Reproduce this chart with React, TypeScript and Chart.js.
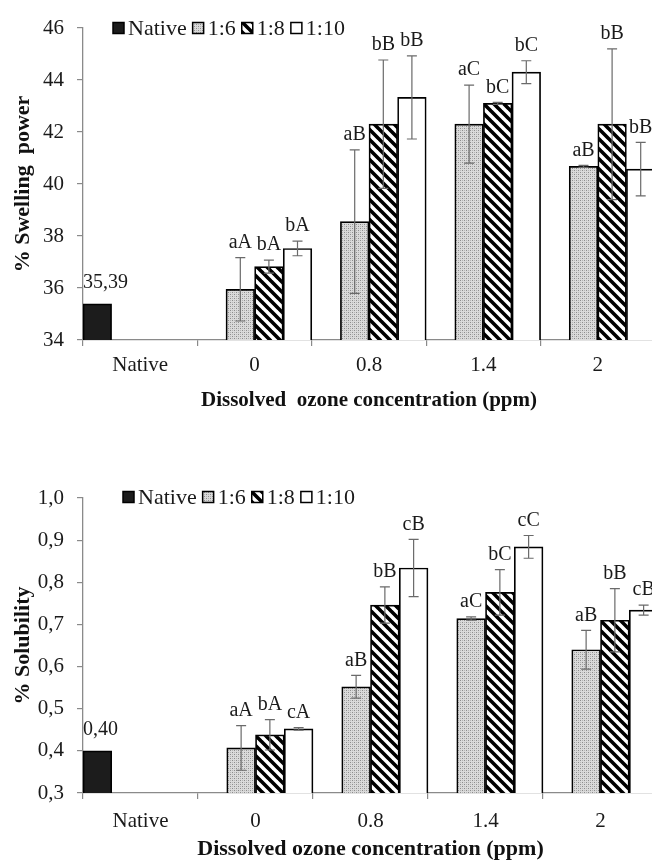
import React, { useEffect, useRef } from 'react';
import { Chart, registerables } from 'chart.js';

Chart.register(...registerables);

const FONT = "'Liberation Serif', 'Times New Roman', serif";

// ---------- shared ----------
const categories = ['Native', '0', '0.8', '1.4', '2'];
const seriesNames = ['Native', '1:6', '1:8', '1:10'];

// ---------- Swelling power ----------
const swellYTicks = [34, 36, 38, 40, 42, 44, 46];
const swellNative = [35.39, null, null, null, null];
const swell16 = [null, 35.95, 38.55, 42.3, 40.68];
const swell18 = [null, 36.82, 42.3, 43.1, 42.3];
const swell110 = [null, 37.52, 43.33, 44.3, 40.57];
const swellErr16 = [null, 1.22, 2.76, 1.5, 0.04];
const swellErr18 = [null, 0.25, 2.47, 0.04, 2.9];
const swellErr110 = [null, 0.28, 1.6, 0.44, 1.03];
const swellLet16 = [null, 'aA', 'aB', 'aC', 'aB'];
const swellLet18 = [null, 'bA', 'bB', 'bC', 'bB'];
const swellLet110 = [null, 'bA', 'bB', 'bC', 'bB'];

// ---------- Solubility ----------
const solYTicks = [0.3, 0.4, 0.5, 0.6, 0.7, 0.8, 0.9, 1.0];
const solNative = [0.4, null, null, null, null];
const sol16 = [null, 0.407, 0.552, 0.714, 0.64];
const sol18 = [null, 0.438, 0.746, 0.776, 0.71];
const sol110 = [null, 0.452, 0.834, 0.884, 0.734];
const solErr16 = [null, 0.053, 0.027, 0.004, 0.046];
const solErr18 = [null, 0.036, 0.043, 0.054, 0.075];
const solErr110 = [null, 0.003, 0.068, 0.027, 0.012];
const solLet16 = [null, 'aA', 'aB', 'aC', 'aB'];
const solLet18 = [null, 'bA', 'bB', 'bC', 'bB'];
const solLet110 = [null, 'cA', 'cB', 'cC', 'cB'];

function makeStipple(): CanvasPattern | string {
  const c = document.createElement('canvas');
  c.width = 4; c.height = 4;
  const g = c.getContext('2d');
  if (!g) return '#cccccc';
  g.fillStyle = '#dadada';
  g.fillRect(0, 0, 4, 4);
  g.fillStyle = '#8c8c8c';
  g.fillRect(0, 0, 1, 1);
  g.fillRect(2, 2, 1, 1);
  g.fillStyle = '#b4b4b4';
  g.fillRect(2, 0, 1, 1);
  g.fillRect(0, 2, 1, 1);
  return g.createPattern(c, 'repeat') as CanvasPattern;
}

function makeHatch(): CanvasPattern | string {
  const s = 10;
  const c = document.createElement('canvas');
  c.width = s; c.height = s;
  const g = c.getContext('2d');
  if (!g) return '#888';
  g.fillStyle = '#ffffff';
  g.fillRect(0, 0, s, s);
  g.strokeStyle = '#000000';
  g.lineWidth = 3.6;
  g.beginPath();
  for (const o of [-s, 0, s]) {
    g.moveTo(o - 1, -1);
    g.lineTo(o + s + 1, s + 1);
  }
  g.stroke();
  return g.createPattern(c, 'repeat') as CanvasPattern;
}

const annotPlugin = {
  id: 'annot',
  afterDatasetsDraw(chart: any, _args: any, opts: any) {
    const ctx = chart.ctx as CanvasRenderingContext2D;
    const yScale = chart.scales.y;
    ctx.save();
    chart.data.datasets.forEach((ds: any, di: number) => {
      const meta = chart.getDatasetMeta(di);
      meta.data.forEach((bar: any, i: number) => {
        const v = ds.data[i];
        if (v == null) return;
        let topPx = bar.y;
        const err = ds.errors ? ds.errors[i] : null;
        if (err != null) {
          const yT = yScale.getPixelForValue(v + err);
          const yB = yScale.getPixelForValue(v - err);
          ctx.strokeStyle = '#6a6a6a';
          ctx.lineWidth = 1.2;
          ctx.beginPath();
          ctx.moveTo(bar.x, yT); ctx.lineTo(bar.x, yB);
          ctx.moveTo(bar.x - 5, yT); ctx.lineTo(bar.x + 5, yT);
          ctx.moveTo(bar.x - 5, yB); ctx.lineTo(bar.x + 5, yB);
          ctx.stroke();
          topPx = Math.min(yT, bar.y);
        }
        const letter = ds.letters ? ds.letters[i] : null;
        if (letter) {
          ctx.fillStyle = '#1a1a1a';
          ctx.font = `${opts.letterSize}px ${FONT}`;
          ctx.textAlign = 'center';
          ctx.textBaseline = 'middle';
          ctx.fillText(letter, bar.x, topPx - opts.letterGap);
        }
        if (ds.valueLabel) {
          ctx.fillStyle = '#1a1a1a';
          ctx.font = `${opts.letterSize}px ${FONT}`;
          ctx.textAlign = 'left';
          ctx.textBaseline = 'middle';
          ctx.fillText(ds.valueLabel(v), bar.x - bar.width / 2, bar.y - opts.valueGap);
        }
      });
    });
    // legend
    let x = opts.legendX;
    const y = opts.legendY;
    ctx.font = `${opts.legendSize}px ${FONT}`;
    ctx.textAlign = 'left';
    ctx.textBaseline = 'middle';
    chart.data.datasets.forEach((ds: any) => {
      const b = 11;
      ctx.fillStyle = ds.backgroundColor;
      ctx.fillRect(x, y - b / 2, b, b);
      ctx.strokeStyle = '#000';
      ctx.lineWidth = 1.5;
      ctx.strokeRect(x, y - b / 2, b, b);
      ctx.fillStyle = '#1a1a1a';
      ctx.fillText(ds.label, x + b + 4, y + 1);
      x += b + 4 + ctx.measureText(ds.label).width + 6;
    });
    ctx.restore();
  },
};

type Cfg = {
  values: (number | null)[][];
  errors: (number | null)[][];
  letters: (string | null)[][];
  yTicks: number[];
  yMin: number;
  yMax: number;
  fmtTick: (v: number) => string;
  fmtValue: (v: number) => string;
  yTitle: string;
  xTitle: string;
  padTop: number;
  padRight: number;
  xHeight: number;
  tickPad: number;
  xTitlePad: number;
  titleSize: number;
  legendX: number;
  legendY: number;
};

function buildChart(canvas: HTMLCanvasElement, c: Cfg) {
  const stipple = makeStipple();
  const hatch = makeHatch();
  const fills = ['#1c1c1c', stipple, hatch, '#ffffff'];
  const datasets = seriesNames.map((name, si) => ({
    label: name,
    data: c.values[si],
    errors: c.errors[si],
    letters: c.letters[si],
    valueLabel: si === 0 ? c.fmtValue : undefined,
    backgroundColor: fills[si],
    borderColor: '#000000',
    borderWidth: 1.7,
    borderSkipped: false,
    categoryPercentage: 1,
    barPercentage: 1,
  }));
  return new Chart(canvas, {
    type: 'bar',
    data: { labels: categories, datasets: datasets as any },
    plugins: [annotPlugin as any],
    options: {
      responsive: false,
      animation: false,
      layout: { padding: { top: c.padTop, right: c.padRight, left: 0, bottom: 0 } },
      plugins: {
        legend: { display: false },
        tooltip: { enabled: false },
        annot: {
          letterSize: 20,
          letterGap: 15,
          valueGap: 21,
          legendSize: 22,
          legendX: c.legendX,
          legendY: c.legendY,
        },
      } as any,
      scales: {
        x: {
          type: 'category',
          grid: { display: true, drawOnChartArea: false, drawTicks: true, tickLength: 6, color: '#8a8a8a', offset: true, lineWidth: 1.2 },
          border: { display: true, color: '#8a8a8a', width: 1.3 },
          ticks: { font: { family: FONT, size: 21 }, color: '#1a1a1a', padding: c.tickPad, maxRotation: 0, autoSkip: false },
          title: {
            display: true,
            text: c.xTitle,
            font: { family: FONT, size: c.titleSize, weight: 'bold' },
            color: '#111',
            padding: { top: 0, bottom: c.xTitlePad },
          },
          afterFit: (s: any) => { s.height = c.xHeight; },
        },
        y: {
          min: c.yMin,
          max: c.yMax,
          afterBuildTicks: (s: any) => { s.ticks = c.yTicks.map((v) => ({ value: v })); },
          grid: { display: true, drawOnChartArea: false, drawTicks: true, tickLength: 6, color: '#8a8a8a', lineWidth: 1.2 },
          border: { display: true, color: '#8a8a8a', width: 1.3 },
          ticks: { font: { family: FONT, size: 21 }, color: '#1a1a1a', padding: 13, callback: (v: any) => c.fmtTick(Number(v)) },
          title: {
            display: true,
            text: c.yTitle,
            font: { family: FONT, size: 22, weight: 'bold' },
            color: '#111',
            padding: { top: 10, bottom: 0 },
          },
          afterFit: (s: any) => { s.width = 83; },
        },
      } as any,
    },
  });
}

function ChartCanvas({ cfg, top, width, height }: { cfg: Cfg; top: number; width: number; height: number }) {
  const ref = useRef<HTMLCanvasElement | null>(null);
  useEffect(() => {
    if (!ref.current) return;
    const ch = buildChart(ref.current, cfg);
    return () => ch.destroy();
  }, []);
  return (
    <canvas
      ref={ref}
      width={width}
      height={height}
      style={{ position: 'absolute', left: 0, top, width, height }}
    />
  );
}

const swellCfg: Cfg = {
  values: [swellNative, swell16, swell18, swell110],
  errors: [[], swellErr16, swellErr18, swellErr110],
  letters: [[], swellLet16, swellLet18, swellLet110],
  yTicks: swellYTicks,
  yMin: 34,
  yMax: 46,
  fmtTick: (v) => String(Math.round(v)),
  fmtValue: (v) => v.toFixed(2).replace('.', ','),
  yTitle: '% Swelling  power',
  xTitle: 'Dissolved  ozone concentration (ppm)',
  padTop: 28,
  padRight: 35,
  xHeight: 100,
  tickPad: 7,
  xTitlePad: 27,
  titleSize: 21,
  legendX: 113,
  legendY: 28,
};

const solCfg: Cfg = {
  values: [solNative, sol16, sol18, sol110],
  errors: [[], solErr16, solErr18, solErr110],
  letters: [[], solLet16, solLet18, solLet110],
  yTicks: solYTicks,
  yMin: 0.3,
  yMax: 1.0,
  fmtTick: (v) => v.toFixed(1).replace('.', ','),
  fmtValue: (v) => v.toFixed(2).replace('.', ','),
  yTitle: '% Solubility',
  xTitle: 'Dissolved ozone concentration (ppm)',
  padTop: 38,
  padRight: 32,
  xHeight: 87,
  tickPad: 10,
  xTitlePad: 17,
  titleSize: 22,
  legendX: 123,
  legendY: 37,
};

export default function App() {
  return (
    <div style={{ position: 'absolute', left: 0, top: 0, width: 652, height: 862, overflow: 'hidden', background: '#ffffff' }}>
      <ChartCanvas cfg={swellCfg} top={0} width={690} height={440} />
      <ChartCanvas cfg={solCfg} top={460} width={690} height={420} />
    </div>
  );
}
